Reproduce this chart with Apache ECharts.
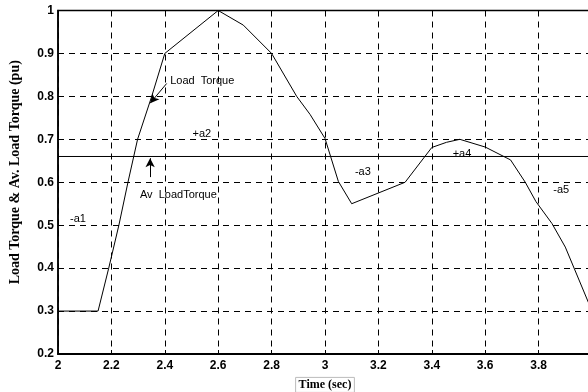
<!DOCTYPE html>
<html>
<head>
<meta charset="utf-8">
<script src="https://cdn.jsdelivr.net/npm/echarts@6/dist/echarts.min.js"></script>
<style>
  html, body { margin: 0; padding: 0; background: #fff; }
  #chart { width: 588px; height: 392px; }
</style>
</head>
<body>
<div id="chart"></div>
<script>
// Load torque profile over one cycle (pu) and its average value
var timeSec = [2, 2.15, 2.19, 2.228, 2.262, 2.298, 2.351, 2.4, 2.6, 2.694, 2.8, 2.894, 2.944, 3.0,
               3.05, 3.1, 3.3, 3.4, 3.455, 3.505, 3.6, 3.695, 3.75, 3.79, 3.85, 3.9, 4.0];
var loadTorque = [0.3, 0.3, 0.4, 0.5, 0.6, 0.7, 0.8, 0.9, 1.0, 0.966, 0.9, 0.8, 0.758, 0.702,
                  0.602, 0.55, 0.6, 0.681, 0.693, 0.7, 0.682, 0.652, 0.6, 0.555, 0.504, 0.449, 0.3];
var avgTorque = 0.66;
var avgSpan = [2, 4];

var xTicks = [2, 2.2, 2.4, 2.6, 2.8, 3, 3.2, 3.4, 3.6, 3.8, 4];
var yTicks = [0.2, 0.3, 0.4, 0.5, 0.6, 0.7, 0.8, 0.9, 1];

// Area labels and callouts, placed in data coordinates
var noteTexts = ['-a1', '+a2', '-a3', '+a4', '-a5', 'Load  Torque', 'Av  LoadTorque'];
var noteAt = [[2.045, 0.515], [2.504, 0.712], [3.112, 0.624], [3.478, 0.665], [3.855, 0.583],
              [2.42, 0.836], [2.307, 0.57]];
var arrows = [
  [[2.407, 0.830], [2.345, 0.784]],
  [[2.345, 0.612], [2.345, 0.656]]
];

var chart = echarts.init(document.getElementById('chart'), null, { renderer: 'canvas' });

var tickFont = {
  color: '#000', fontFamily: '"Liberation Sans Narrow", "Liberation Sans", Arial, sans-serif',
  fontWeight: 'bold', fontSize: 12
};
var dashGrid = { show: true, lineStyle: { color: '#000', width: 1, type: [6, 5] } };

chart.setOption({
  animation: false,
  backgroundColor: '#fff',
  grid: { left: 58, top: 10.5, right: -4, bottom: 38, show: true, borderColor: '#000', borderWidth: 1.5,
          outerBoundsMode: 'none', containLabel: false },
  xAxis: {
    type: 'value', min: xTicks[0], max: xTicks[xTicks.length - 1], interval: 0.2,
    name: 'Time (sec)', nameLocation: 'middle', nameGap: 19,
    nameTextStyle: {
      fontFamily: '"Liberation Serif", "Times New Roman", serif', fontWeight: 'bold', fontSize: 12,
      color: '#000', borderColor: '#bbb', borderWidth: 1, padding: [2, 3, 1, 3]
    },
    axisLine: { show: true, onZero: false, lineStyle: { color: '#000', width: 2 } },
    axisTick: { show: true, inside: true, length: 4, lineStyle: { color: '#000' } },
    axisLabel: Object.assign({ margin: 6, showMaxLabel: false,
      formatter: function (v) { return String(Math.round(v * 10) / 10); } }, tickFont),
    splitLine: dashGrid
  },
  yAxis: {
    type: 'value', min: yTicks[0], max: yTicks[yTicks.length - 1], interval: 0.1,
    name: 'Load Torque & Av. Load Torque (pu)', nameLocation: 'middle', nameGap: 36,
    nameTextStyle: {
      fontFamily: '"Liberation Serif", "Times New Roman", serif', fontWeight: 'bold', fontSize: 14,
      color: '#000', padding: [0, 0, 0, 20]
    },
    axisLine: { show: true, onZero: false, lineStyle: { color: '#000', width: 1.5 } },
    axisTick: { show: true, inside: true, length: 4, lineStyle: { color: '#000' } },
    axisLabel: Object.assign({ margin: 4,
      formatter: function (v) { return String(Math.round(v * 10) / 10); } }, tickFont),
    splitLine: dashGrid
  },
  series: [
    {
      name: 'Load Torque', type: 'line', symbol: 'none', silent: true,
      data: timeSec.map(function (t, i) { return [t, loadTorque[i]]; }),
      lineStyle: { color: '#000', width: 1 }
    },
    {
      name: 'Av Load Torque', type: 'line', symbol: 'none', silent: true,
      data: avgSpan.map(function (t) { return [t, avgTorque]; }),
      lineStyle: { color: '#000', width: 1 },
      markLine: {
        silent: true, symbol: ['none', 'arrow'], symbolSize: [7, 9],
        lineStyle: { color: '#000', width: 1, type: 'solid' },
        label: { show: false },
        data: arrows.map(function (a) { return [{ coord: a[0] }, { coord: a[1] }]; })
      }
    }
  ]
});

var noteGraphics = noteTexts.map(function (txt, i) {
  var p = chart.convertToPixel({ gridIndex: 0 }, noteAt[i]);
  return {
    type: 'text', x: p[0], y: p[1], silent: true,
    style: {
      text: txt, fill: '#000', font: '11px "Liberation Sans", Arial, sans-serif',
      textAlign: 'left', textVerticalAlign: 'middle'
    }
  };
});
chart.setOption({ graphic: noteGraphics });
</script>
</body>
</html>
